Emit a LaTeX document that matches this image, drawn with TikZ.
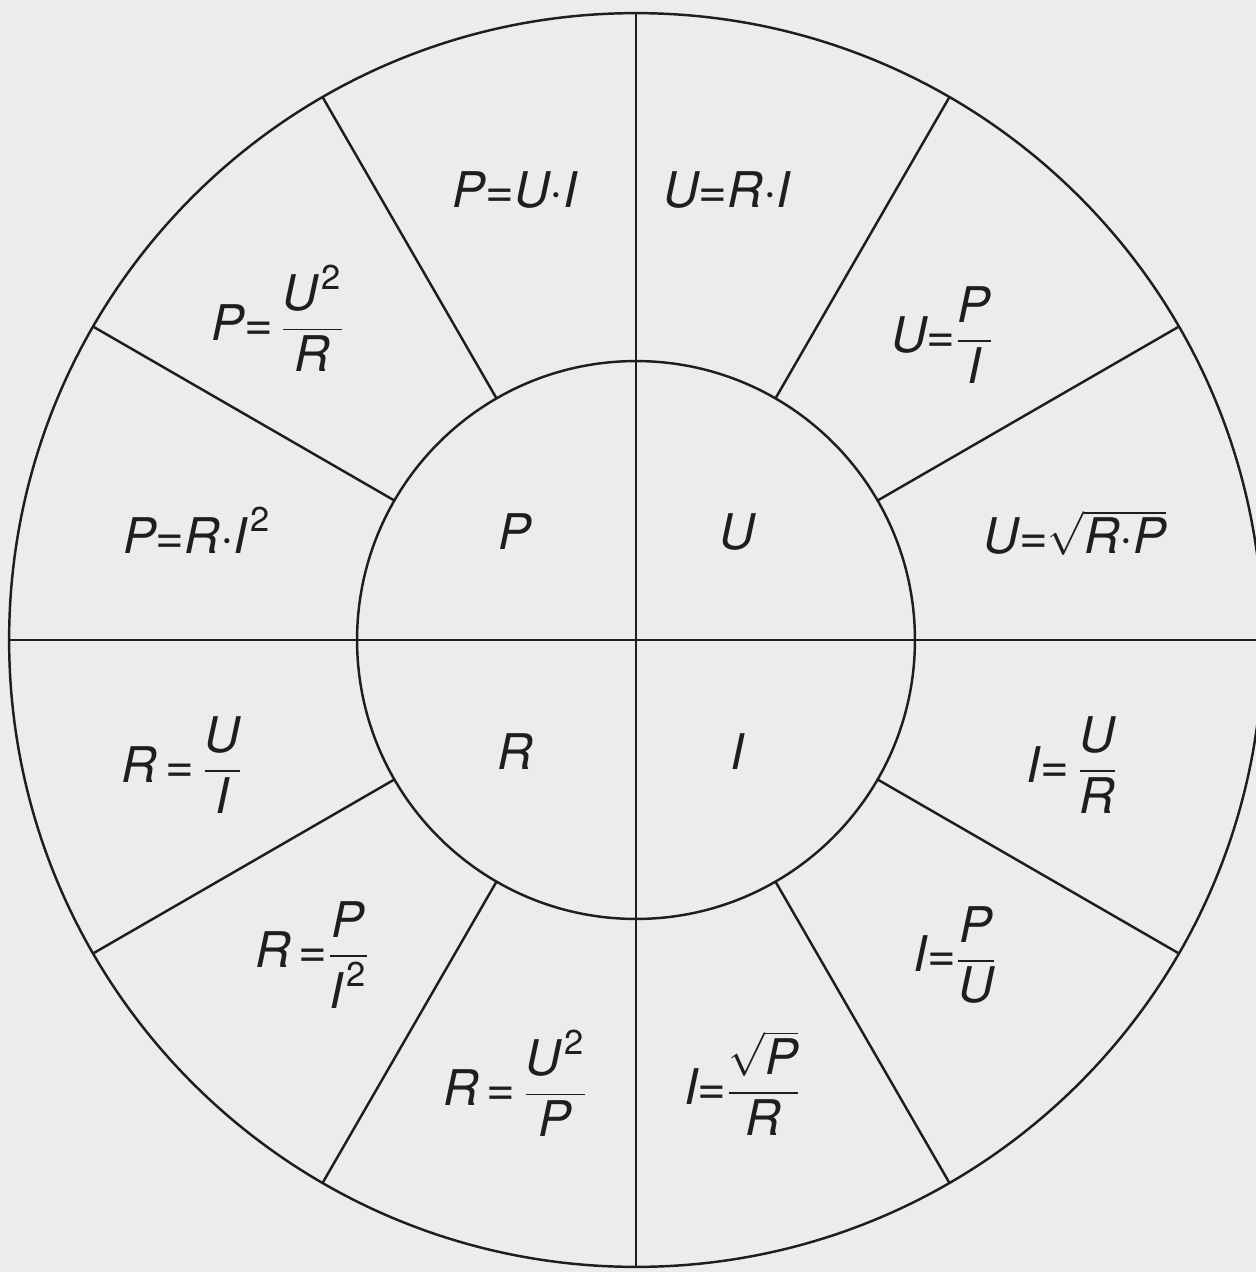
\documentclass[tikz,border=0pt]{standalone}
\usepackage{amsmath}
\usepackage{fontspec}
\setmainfont{TeX Gyre Heros}
\definecolor{paper}{RGB}{236,236,234}
\definecolor{ink}{RGB}{30,30,30}
\newcommand{\tv}[1]{\text{#1}}
\newcommand{\sq}{^{\kern2pt\textup{2}}}
\begin{document}
\begin{tikzpicture}[x=0.02cm,y=-0.02cm,
  ring/.style={circle,draw=ink,line width=1.4pt,inner sep=0pt,outer sep=0pt},
  spoke/.style={draw=ink,line width=1.4pt},
  lbl/.style={text=ink,font=\fontsize{28}{33}\selectfont\itshape,inner sep=0pt}]
\fill[paper] (0,0) rectangle (1256,1272);
\useasboundingbox (0,0) rectangle (1256,1272);
\coordinate (c) at (636,640);
\node[ring,minimum size=25.08cm] (outer) at (c) {};
\node[ring,minimum size=11.16cm] (inner) at (c) {};
\draw[spoke] (outer.90) -- (outer.270);
\draw[spoke] (outer.0) -- (outer.180);
\foreach \a in {30,60,120,150,210,240,300,330}
  \draw[spoke] (inner.\a) -- (outer.\a);
% inner labels
\node[lbl] (p) at (515,532) {P};
\node[lbl] (u) at (737,532) {U};
\node[lbl] (r) at (515,752) {R};
\node[lbl] (i) at (737,752) {I};
% outer labels
\node[lbl] (f1) at (515,190) {P=U·I};
\node[lbl] (f2) at (727,190) {U=R·I};
\node[lbl] (f3) at (278,318) {$\tv{P=}\,\dfrac{\tv{U}\sq}{\tv{R}}$};
\node[lbl] (f4) at (942,335) {$\tv{U=}\dfrac{\tv{P}}{\tv{I}}$};
\node[lbl] (f5) at (197,530) {$\tv{P=R·I}\sq$};
\node[lbl] (f6) at (1075,533) {$\tv{U=}\sqrt{\tv{R·P}}$};
\node[lbl] (f7) at (182,765) {$\tv{R\,=\,}\dfrac{\tv{U}}{\tv{I}}$};
\node[lbl] (f8) at (1072,765) {$\tv{I=\,}\dfrac{\tv{U}}{\tv{R}}$};
\node[lbl] (f9) at (312,955) {$\tv{R\,=}\dfrac{\tv{P}}{\tv{I}\sq}$};
\node[lbl] (f10) at (955,955) {$\tv{I=}\dfrac{\tv{P}}{\tv{U}}$};
\node[lbl] (f11) at (515,1083) {$\tv{R\,=\,}\dfrac{\tv{U}\sq}{\tv{P}}$};
\node[lbl] (f12) at (742,1083) {$\tv{I=}\dfrac{\sqrt{\tv{P}}}{\tv{R}}$};
\end{tikzpicture}
\end{document}
